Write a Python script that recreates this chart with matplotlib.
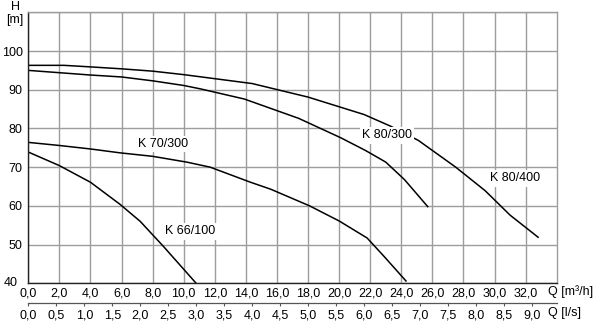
import matplotlib
matplotlib.use("Agg")
import matplotlib.pyplot as plt
import matplotlib.transforms as mtransforms

plt.rcParams['font.family'] = ['Liberation Sans', 'DejaVu Sans']

# Axis ticks
q_ticks = [0, 2, 4, 6, 8, 10, 12, 14, 16, 18, 20, 22, 24, 26, 28, 30, 32]
q_labels = ["0,0", "2,0", "4,0", "6,0", "8,0", "10,0", "12,0", "14,0", "16,0",
            "18,0", "20,0", "22,0", "24,0", "26,0", "28,0", "30,0", "32,0"]
ls_ticks = [0.0, 0.5, 1.0, 1.5, 2.0, 2.5, 3.0, 3.5, 4.0, 4.5, 5.0, 5.5, 6.0,
            6.5, 7.0, 7.5, 8.0, 8.5, 9.0]
ls_labels = [f"{v:.1f}".replace(".", ",") for v in ls_ticks]
h_ticks = [40, 50, 60, 70, 80, 90, 100]
h_labels = ["40", "50", "60", "70", "80", "90", "100"]

# Pump curves: flow Q [m3/h] vs head H [m]
k80_400_q = [0.0, 2.3, 4.0, 6.0, 8.0, 10.0, 14.4, 18.0, 20.0, 21.6, 23.3, 25.1, 27.5, 29.4, 31.0, 32.8]
k80_400_h = [96.3, 96.3, 95.9, 95.4, 94.8, 93.9, 91.6, 88.1, 85.6, 83.6, 80.6, 76.9, 70.0, 63.9, 57.6, 51.9]

k80_300_q = [0.0, 4.0, 6.0, 8.0, 10.0, 11.1, 13.9, 17.4, 20.1, 21.7, 23.0, 24.2, 25.7]
k80_300_h = [95.0, 93.8, 93.3, 92.3, 91.1, 90.2, 87.6, 82.6, 77.6, 74.3, 71.3, 66.8, 59.8]

k70_300_q = [0.0, 2.0, 4.0, 5.9, 8.0, 10.2, 11.7, 14.3, 15.6, 18.1, 20.0, 21.8, 22.9, 24.3]
k70_300_h = [76.4, 75.6, 74.7, 73.7, 72.8, 71.3, 70.0, 66.1, 64.3, 60.0, 56.1, 51.7, 46.9, 40.6]

k66_100_q = [0.0, 2.0, 4.0, 5.9, 7.2, 8.7, 10.8]
k66_100_h = [73.9, 70.4, 66.1, 60.4, 56.0, 49.5, 40.0]

curve_names = ["K 80/400", "K 80/300", "K 70/300", "K 66/100"]

fig = plt.figure(figsize=(6.0, 3.3), dpi=100)
ax = fig.add_axes([0.0472, 0.1415, 0.8807, 0.8212])

grid_color = "#9d9d9d"
ax.set_xlim(0, 34)
ax.set_ylim(40, 110)
ax.set_xticks(q_ticks)
ax.set_xticklabels(q_labels, fontsize=9)
ax.set_yticks(h_ticks + [110])
ax.set_yticklabels(h_labels + [""], fontsize=9)
ax.tick_params(axis="both", length=0)
ax.tick_params(axis="x", pad=3)
ax.tick_params(axis="y", pad=4)
ax.grid(True, color=grid_color, linewidth=1.0)
ax.set_axisbelow(True)

for side in ("top", "right"):
    ax.spines[side].set_color(grid_color)
    ax.spines[side].set_linewidth(1.0)
for side in ("left", "bottom"):
    ax.spines[side].set_color("#222222")
    ax.spines[side].set_linewidth(1.0)

# Lowest head label sits up and to the left of the corner
lbl40 = ax.get_yticklabels()[0]
lbl40.set_transform(lbl40.get_transform() +
                    mtransforms.ScaledTranslation(-5 / 100, 1.5 / 100, fig.dpi_scale_trans))

line_kw = dict(color="black", linewidth=1.1, solid_joinstyle="round")
ax.plot(k80_400_q, k80_400_h, **line_kw)
ax.plot(k80_300_q, k80_300_h, **line_kw)
ax.plot(k70_300_q, k70_300_h, **line_kw)
ax.plot(k66_100_q, k66_100_h, **line_kw)

label_kw = dict(fontsize=9, ha="center", va="center", zorder=5,
                bbox=dict(facecolor="white", edgecolor="none", pad=1.5))
ax.text(31.3, 67.1, curve_names[0], **label_kw)
ax.text(23.1, 78.2, curve_names[1], **label_kw)
ax.text(8.7, 75.9, curve_names[2], **label_kw)
ax.text(10.4, 53.4, curve_names[3], **label_kw)

# Second flow scale in l/s
sec = ax.secondary_xaxis(-0.072, functions=(lambda q: q / 3.6, lambda v: v * 3.6))
sec.set_xticks(ls_ticks)
sec.set_xticklabels(ls_labels, fontsize=9)
sec.spines["bottom"].set_color("#555555")
sec.spines["bottom"].set_linewidth(0.9)
sec.tick_params(axis="x", length=2, width=0.8, color="#555555", pad=3)

# Axis titles
fig.text(548 / 600, 1 - 292 / 330, "Q [m\u00b3/h]", fontsize=9, ha="left", va="center")
fig.text(548 / 600, 1 - 313 / 330, "Q [l/s]", fontsize=9, ha="left", va="center")
fig.text(15 / 600, 1 - 7 / 330, "H", fontsize=9, ha="center", va="center")
fig.text(15 / 600, 1 - 20 / 330, "[m]", fontsize=9, ha="center", va="center")

fig.savefig("out.png", dpi=100, facecolor="white")
